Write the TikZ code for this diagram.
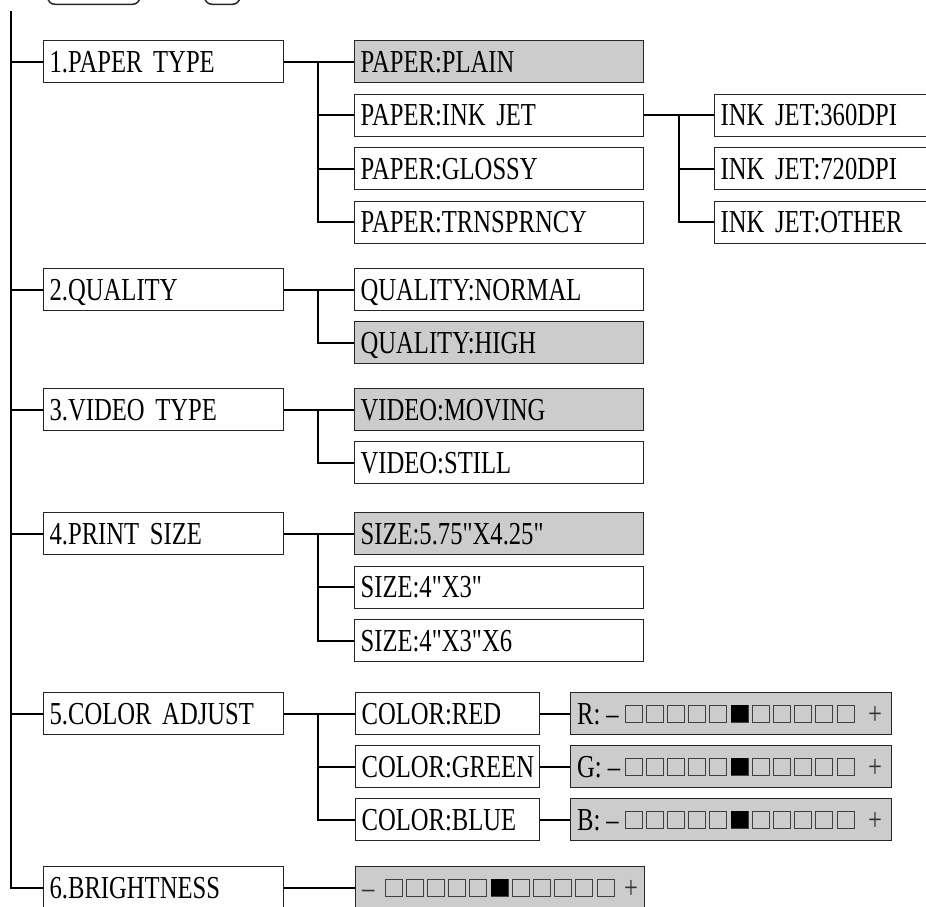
\documentclass[tikz,border=0pt]{standalone}
\usepackage{fontspec}
\newfontfamily\diagfont{Liberation Serif}[FakeStretch=0.77, WordSpace=0.6]
\definecolor{selgray}{RGB}{204,204,204}
\newcommand{\slidersquares}[2]{%
  \foreach \i in {0,...,10}{%
    \draw[sqbox] ([xshift={#2pt+21.2pt*\i}, yshift=8.5pt]#1.west) rectangle ++(17,17);
  }%
  \fill[black] ([xshift={#2pt+21.2pt*5}, yshift=8.5pt]#1.west) rectangle ++(17,17);
}
\begin{document}
\begin{tikzpicture}[x=1pt,y=-1pt,
  box/.style={draw=black!85, line width=1.2pt, rectangle, anchor=north west,
    minimum height=42pt, inner xsep=6pt, inner ysep=0pt, text height=21pt,
    text depth=0pt, align=left, font=\diagfont\fontsize{32}{36}\selectfont},
  lone/.style={box, text width=228pt},
  ltwo/.style={box, text width=277pt},
  lthree/.style={box, text width=199.5pt},
  cbox/.style={box, text width=172pt},
  sel/.style={fill=selgray},
  barbox/.style={box, fill=selgray, text width=309pt},
  bbarbox/.style={box, fill=selgray, text width=277pt},
  lbl/.style={anchor=west, inner sep=0pt, text height=21pt, text depth=0pt,
    font=\diagfont\fontsize{32}{36}\selectfont},
  sqbox/.style={draw=black!75, line width=0.9pt},
  conn/.style={line width=2pt},
  keybox/.style={draw=black!85, line width=1.5pt, rounded corners=7pt,
    anchor=south west, minimum height=40pt, inner sep=0pt}
]
\clip (0,0) rectangle (926,906);

% partial key boxes at the top
\node[keybox, minimum width=92pt] (keyone) at (47,5) {};
\node[keybox, minimum width=35pt] (keytwo) at (204,5) {};

% level 1
\node[lone] (paper)   at (43,40)  {1.PAPER TYPE};
\node[lone] (quality) at (43,268) {2.QUALITY};
\node[lone] (video)   at (43,388) {3.VIDEO TYPE};
\node[lone] (psize)   at (43,512) {4.PRINT SIZE};
\node[lone] (cadj)    at (43,692) {5.COLOR ADJUST};
\node[lone] (bright)  at (43,866) {6.BRIGHTNESS};

% level 2
\node[ltwo, sel] (plain)  at (354,40)    {PAPER:PLAIN};
\node[ltwo]      (inkjet) at (354,93.5)  {PAPER:INK JET};
\node[ltwo]      (glossy) at (354,147)   {PAPER:GLOSSY};
\node[ltwo]      (trn)    at (354,200.5) {PAPER:TRNSPRNCY};
\node[ltwo]      (qnorm)  at (354,268)   {QUALITY:NORMAL};
\node[ltwo, sel] (qhigh)  at (354,321)   {QUALITY:HIGH};
\node[ltwo, sel] (vmov)   at (354,388)   {VIDEO:MOVING};
\node[ltwo]      (vstill) at (354,441)   {VIDEO:STILL};
\node[ltwo, sel] (sone)   at (354,512)   {SIZE:5.75"X4.25"};
\node[ltwo]      (stwo)   at (354,565.5) {SIZE:4"X3"};
\node[ltwo]      (sthree) at (354,619)   {SIZE:4"X3"X6};

% level 3 ink jet
\node[lthree] (ija) at (714,93.5)  {INK JET:360DPI};
\node[lthree] (ijb) at (714,147)   {INK JET:720DPI};
\node[lthree] (ijc) at (714,200.5) {INK JET:OTHER};

% colour boxes
\node[cbox] (cred)   at (355,692) {COLOR:RED};
\node[cbox] (cgreen) at (355,745) {COLOR:GREEN};
\node[cbox] (cblue)  at (355,798) {COLOR:BLUE};

% sliders
\node[barbox] (rbar) at (570,692) {};
\node[barbox] (gbar) at (570,745) {};
\node[barbox] (bbar) at (570,798) {};
\node[bbarbox] (brbar) at (355,866) {};

\node[lbl] (rlbl) at ([xshift=7pt]rbar.west) {R:\hspace{6pt}–};
\node[lbl] (glbl) at ([xshift=7pt]gbar.west) {G:\hspace{6pt}–};
\node[lbl] (blbl) at ([xshift=7pt]bbar.west) {B:\hspace{6pt}–};
\node[lbl, text=black!80] (rplus) at ([xshift=298pt]rbar.west) {+};
\node[lbl, text=black!80] (gplus) at ([xshift=298pt]gbar.west) {+};
\node[lbl, text=black!80] (bplus) at ([xshift=298pt]bbar.west) {+};
\node[lbl, text=black!80] (brminus) at ([xshift=7pt]brbar.west) {–};
\node[lbl, text=black!80] (brplus) at ([xshift=269pt]brbar.west) {+};
\slidersquares{rbar}{55}
\slidersquares{gbar}{55}
\slidersquares{bbar}{55}
\slidersquares{brbar}{30}

% main trunk
\coordinate (mtop) at (10.5,11);
\draw[conn] (mtop) |- (bright.west);
\foreach \n in {paper,quality,video,psize,cadj}{
  \draw[conn] (mtop |- \n.west) -- (\n.west);
}

% branches
\draw[conn] (paper.east) -- (plain.west);
\foreach \n in {inkjet,glossy,trn}{
  \draw[conn] ([xshift=34pt]paper.east) |- (\n.west);
}
\draw[conn] (inkjet.east) -- (ija.west);
\foreach \n in {ijb,ijc}{
  \draw[conn] ([xshift=35pt]inkjet.east) |- (\n.west);
}
\draw[conn] (quality.east) -- (qnorm.west);
\draw[conn] ([xshift=34pt]quality.east) |- (qhigh.west);
\draw[conn] (video.east) -- (vmov.west);
\draw[conn] ([xshift=34pt]video.east) |- (vstill.west);
\draw[conn] (psize.east) -- (sone.west);
\foreach \n in {stwo,sthree}{
  \draw[conn] ([xshift=34pt]psize.east) |- (\n.west);
}
\draw[conn] (cadj.east) -- (cred.west);
\foreach \n in {cgreen,cblue}{
  \draw[conn] ([xshift=34pt]cadj.east) |- (\n.west);
}
\draw[conn] (cred.east) -- (rbar.west);
\draw[conn] (cgreen.east) -- (gbar.west);
\draw[conn] (cblue.east) -- (bbar.west);
\draw[conn] (bright.east) -- (brbar.west);
\end{tikzpicture}
\end{document}
